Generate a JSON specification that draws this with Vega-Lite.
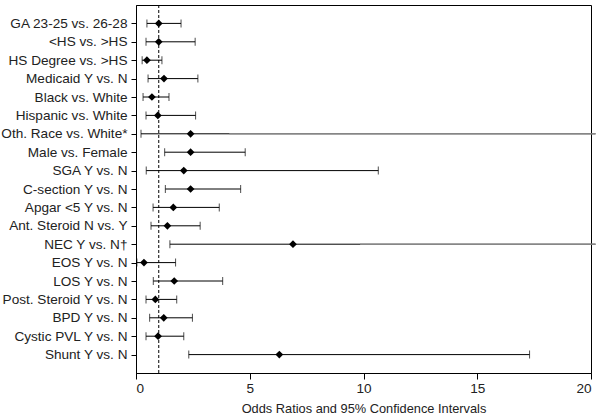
{
  "$schema": "https://vega.github.io/schema/vega-lite/v6.json",
  "autosize": {"type": "none"},
  "width": 455,
  "height": 368,
  "padding": {"left": 136, "top": 5, "right": 13, "bottom": 46},
  "background": "white",
  "datasets": {
    "rows": [
      {"label": "GA 23-25 vs. 26-28", "lo": 0.48, "or": 1.0, "hi": 1.98, "capped": true},
      {"label": "<HS vs. >HS", "lo": 0.44, "or": 1.0, "hi": 2.6, "capped": true},
      {"label": "HS Degree vs. >HS", "lo": 0.27, "or": 0.48, "hi": 1.14, "capped": true},
      {"label": "Medicaid Y vs. N", "lo": 0.53, "or": 1.23, "hi": 2.72, "capped": true},
      {"label": "Black vs. White", "lo": 0.31, "or": 0.7, "hi": 1.45, "capped": true},
      {"label": "Hispanic vs. White", "lo": 0.44, "or": 0.96, "hi": 2.62, "capped": true},
      {"label": "Oth. Race vs. White*", "lo": 0.22, "or": 2.4, "hi": 20.2, "fade": 4.1, "capped": false},
      {"label": "Male vs. Female", "lo": 1.26, "or": 2.4, "hi": 4.8, "capped": true},
      {"label": "SGA Y vs. N", "lo": 0.45, "or": 2.1, "hi": 10.65, "capped": true},
      {"label": "C-section Y vs. N", "lo": 1.29, "or": 2.4, "hi": 4.6, "capped": true},
      {"label": "Apgar <5 Y vs. N", "lo": 0.75, "or": 1.64, "hi": 3.66, "capped": true},
      {"label": "Ant. Steroid N vs. Y", "lo": 0.66, "or": 1.38, "hi": 2.82, "capped": true},
      {"label": "NEC Y vs. N†", "lo": 1.49, "or": 6.9, "hi": 20.2, "fade": 9.85, "capped": false},
      {"label": "EOS Y vs. N", "lo": 0.04, "or": 0.35, "hi": 1.74, "capped": true},
      {"label": "LOS Y vs. N", "lo": 0.76, "or": 1.68, "hi": 3.81, "capped": true},
      {"label": "Post. Steroid Y vs. N", "lo": 0.44, "or": 0.85, "hi": 1.79, "capped": true},
      {"label": "BPD Y vs. N", "lo": 0.6, "or": 1.22, "hi": 2.48, "capped": true},
      {"label": "Cystic PVL Y vs. N", "lo": 0.44, "or": 0.97, "hi": 2.1, "capped": true},
      {"label": "Shunt Y vs. N", "lo": 2.32, "or": 6.3, "hi": 17.3, "capped": true}
    ],
    "reference": [{"ref": 1}]
  },
  "data": {"name": "rows"},
  "layer": [
    {
      "data": {"name": "reference"},
      "mark": {"type": "rule", "strokeDash": [3, 2], "color": "black", "strokeWidth": 1},
      "encoding": {"x": {"field": "ref", "type": "quantitative"}}
    },
    {
      "mark": {"type": "rule", "color": "black", "strokeWidth": 1, "clip": false},
      "encoding": {
        "y": {
          "field": "label", "type": "nominal", "sort": null,
          "scale": {"type": "point", "padding": 1},
          "axis": {"title": null, "labelFont": "Liberation Sans", "labelFontSize": 13.6, "labelColor": "#222", "tickColor": "black", "domainColor": "black", "tickSize": 5, "labelPadding": 4, "grid": false}
        },
        "x": {"field": "lo", "type": "quantitative",
          "scale": {"domain": [0, 20], "nice": false},
          "axis": {"values": [0, 5, 10, 15, 20], "title": "Odds Ratios and 95% Confidence Intervals", "titleFont": "Liberation Sans", "titleFontSize": 12.8, "titleFontWeight": "normal", "titleColor": "#222", "titlePadding": 8, "labelFont": "Liberation Sans", "labelFontSize": 13.6, "labelColor": "#222", "tickColor": "black", "domainColor": "black", "tickSize": 6, "labelPadding": 2, "grid": false}},
        "x2": {"field": "hi"}
      }
    },
    {
      "transform": [{"filter": "datum.fade != null"}],
      "mark": {"type": "rule", "color": "#9a9a9a", "strokeWidth": 1.3, "clip": false},
      "encoding": {
        "y": {"field": "label", "type": "nominal", "sort": null},
        "x": {"field": "fade", "type": "quantitative"},
        "x2": {"field": "hi"}
      }
    },
    {
      "mark": {"type": "tick", "color": "black", "thickness": 1, "size": 8},
      "encoding": {
        "y": {"field": "label", "type": "nominal", "sort": null},
        "x": {"field": "lo", "type": "quantitative"}
      }
    },
    {
      "transform": [{"filter": "datum.capped"}],
      "mark": {"type": "tick", "color": "black", "thickness": 1, "size": 8},
      "encoding": {
        "y": {"field": "label", "type": "nominal", "sort": null},
        "x": {"field": "hi", "type": "quantitative"}
      }
    },
    {
      "mark": {"type": "point", "shape": "diamond", "filled": true, "color": "black", "size": 60, "opacity": 1},
      "encoding": {
        "y": {"field": "label", "type": "nominal", "sort": null},
        "x": {"field": "or", "type": "quantitative"}
      }
    }
  ],
  "config": {
    "view": {"stroke": "black", "strokeWidth": 1},
    "axis": {"grid": false}
  }
}
